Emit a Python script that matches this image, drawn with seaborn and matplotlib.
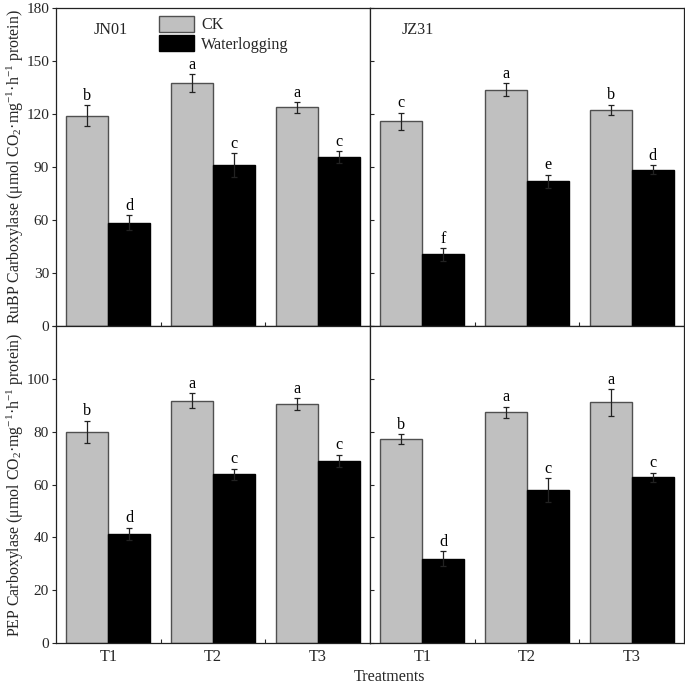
import numpy as np
import pandas as pd
import matplotlib
matplotlib.use("Agg")
import matplotlib.pyplot as plt
import seaborn as sns
from matplotlib.ticker import MultipleLocator, FixedLocator

sns.set_theme(style="ticks")
plt.rcParams['font.family'] = ['Liberation Serif', 'DejaVu Serif']
plt.rcParams['mathtext.fontset'] = 'custom'
plt.rcParams['mathtext.rm'] = 'Liberation Serif'
plt.rcParams['mathtext.it'] = 'Liberation Serif:italic'
plt.rcParams['mathtext.bf'] = 'Liberation Serif:bold'

# ---------------- data ----------------
treatments = ["T1", "T2", "T3"]
groups = ["CK", "Waterlogging"]

rubp_jn01_ck = [119.0, 137.5, 123.8]
rubp_jn01_ck_err = [6.0, 5.0, 3.0]
rubp_jn01_wl = [58.5, 91.0, 95.5]
rubp_jn01_wl_err = [4.3, 6.7, 3.3]
rubp_jn01_letters_ck = ["b", "a", "a"]
rubp_jn01_letters_wl = ["d", "c", "c"]

rubp_jz31_ck = [115.8, 133.8, 122.3]
rubp_jz31_ck_err = [5.0, 3.5, 3.0]
rubp_jz31_wl = [40.5, 81.8, 88.5]
rubp_jz31_wl_err = [3.5, 3.8, 2.5]
rubp_jz31_letters_ck = ["c", "a", "b"]
rubp_jz31_letters_wl = ["f", "e", "d"]

pep_jn01_ck = [80.0, 91.7, 90.4]
pep_jn01_ck_err = [4.2, 2.8, 2.3]
pep_jn01_wl = [41.3, 63.9, 68.9]
pep_jn01_wl_err = [2.4, 2.1, 2.4]
pep_jn01_letters_ck = ["b", "a", "a"]
pep_jn01_letters_wl = ["d", "c", "c"]

pep_jz31_ck = [77.2, 87.3, 91.1]
pep_jz31_ck_err = [1.9, 2.1, 5.0]
pep_jz31_wl = [31.9, 57.9, 62.8]
pep_jz31_wl_err = [2.8, 4.6, 1.7]
pep_jz31_letters_ck = ["b", "a", "a"]
pep_jz31_letters_wl = ["d", "c", "c"]

cultivars = ["JN01", "JZ31"]

FS = 11.6      # text size
TFS = 11       # tick label size
YFS = 11.4     # y label size
GRAY = "#c0c0c0"

def make_df(ck, wl):
    return pd.DataFrame({
        "Treatment": treatments * 2,
        "Group": [groups[0]] * 3 + [groups[1]] * 3,
        "Value": list(ck) + list(wl),
    })

W, H = 685, 687
fig = plt.figure(figsize=(W / 100, H / 100), dpi=100)

x0, xm, x1 = 56, 370, 684
y0, ym, y1 = 8, 326, 643

def add_ax(xa, xb, ya, yb):
    return fig.add_axes([xa / W, 1 - yb / H, (xb - xa) / W, (yb - ya) / H])

axTL = add_ax(x0, xm, y0, ym)
axTR = add_ax(xm, x1, y0, ym)
axBL = add_ax(x0, xm, ym, y1)
axBR = add_ax(xm, x1, ym, y1)

panels = [
    (axTL, rubp_jn01_ck, rubp_jn01_ck_err, rubp_jn01_wl, rubp_jn01_wl_err, rubp_jn01_letters_ck, rubp_jn01_letters_wl, 180, 30),
    (axTR, rubp_jz31_ck, rubp_jz31_ck_err, rubp_jz31_wl, rubp_jz31_wl_err, rubp_jz31_letters_ck, rubp_jz31_letters_wl, 180, 30),
    (axBL, pep_jn01_ck, pep_jn01_ck_err, pep_jn01_wl, pep_jn01_wl_err, pep_jn01_letters_ck, pep_jn01_letters_wl, 120, 20),
    (axBR, pep_jz31_ck, pep_jz31_ck_err, pep_jz31_wl, pep_jz31_wl_err, pep_jz31_letters_ck, pep_jz31_letters_wl, 120, 20),
]

for i, (ax, ck, cke, wl, wle, lck, lwl, ymax, ystep) in enumerate(panels):
    df = make_df(ck, wl)
    sns.barplot(data=df, x="Treatment", y="Value", hue="Group", order=treatments,
                hue_order=groups, palette=[GRAY, "black"], errorbar=None,
                width=0.8, legend=False, ax=ax, saturation=1)
    for cont, ec in zip(ax.containers, ["#505050", "black"]):
        for p in cont:
            p.set_edgecolor(ec)
            p.set_linewidth(1.0)
    for cont, vals, errs, lets in zip(ax.containers, [ck, wl], [cke, wle], [lck, lwl]):
        for p, v, e, t in zip(cont, vals, errs, lets):
            cx = p.get_x() + p.get_width() / 2
            ax.errorbar(cx, v, yerr=e, fmt="none", ecolor="#222222",
                        elinewidth=0.9, capsize=2.2, capthick=0.9, zorder=3)
            ax.annotate(t, (cx, v + e), xytext=(0, 1.0), textcoords="offset points",
                        ha="center", va="bottom", fontsize=FS, color="black")
    ax.set_xlim(-0.5, 2.5)
    ax.set_ylim(0, ymax)
    ax.set_xlabel("")
    ax.set_ylabel("")
    for s in ax.spines.values():
        s.set_visible(True)
        s.set_color("#222222")
        s.set_linewidth(0.9)
    ax.yaxis.set_major_locator(MultipleLocator(ystep))
    ax.xaxis.set_major_locator(FixedLocator([0, 1, 2]))
    ax.xaxis.set_minor_locator(FixedLocator([0.5, 1.5]))
    ax.tick_params(axis="x", which="major", length=0, labelsize=FS, pad=4)
    ax.tick_params(axis="x", which="minor", direction="in", length=3, width=0.8,
                   bottom=True, top=False)
    left_col = i % 2 == 0
    top_row = i < 2
    if left_col:
        ax.tick_params(axis="y", direction="out", length=3, width=0.8, labelsize=TFS, pad=2)
    else:
        ax.tick_params(axis="y", direction="in", length=3, width=0.8, labelleft=False)
    if top_row:
        ax.tick_params(axis="x", labelbottom=False)
    else:
        ax.set_xticklabels(treatments)
    if not top_row and left_col:
        ticks = list(range(0, ymax + 1, ystep))
        ax.set_yticks(ticks)
        ax.set_yticklabels([str(t) if t < ymax else "" for t in ticks])

axTL.text(0.12, 0.93, "JN01", transform=axTL.transAxes, fontsize=FS, ha="left", va="center")
axTR.text(0.10, 0.93, "JZ31", transform=axTR.transAxes, fontsize=FS, ha="left", va="center")

leg = axTL.legend(handles=[axTL.containers[0][0], axTL.containers[1][0]], labels=groups,
                  loc="upper left", bbox_to_anchor=((159 - x0) / (xm - x0), (ym - 16) / (ym - y0)),
                  frameon=False, fontsize=FS, handlelength=2.2, handleheight=1.15,
                  labelspacing=0.12, handletextpad=0.4, borderpad=0, borderaxespad=0)

ylab_top = r"RuBP Carboxylase (μmol CO$_2$·mg$^{-1}$·h$^{-1}$ protein)"
ylab_bot = r"PEP Carboxylase (μmol CO$_2$·mg$^{-1}$·h$^{-1}$ protein)"
fig.text(15 / W, 1 - (y0 + ym) / 2 / H, ylab_top, rotation=90, ha="center", va="center", fontsize=YFS)
fig.text(15 / W, 1 - (ym + y1) / 2 / H, ylab_bot, rotation=90, ha="center", va="center", fontsize=YFS)
fig.text(390 / W, 1 - 677 / H, "Treatments", ha="center", va="center", fontsize=FS)

fig.savefig("out.png", dpi=100)
